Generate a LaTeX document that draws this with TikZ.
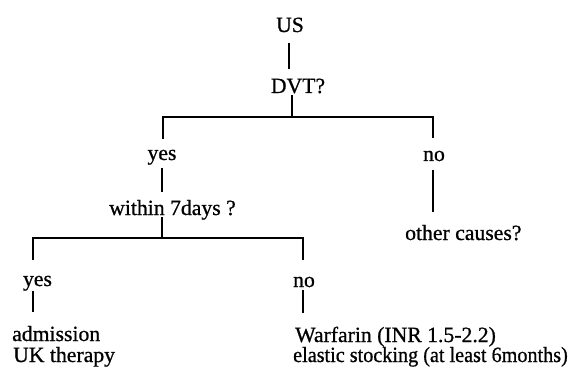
\documentclass[tikz,border=0pt]{standalone}
\usepackage{fontspec}
\setmainfont{Liberation Serif}[FakeBold=0.8]
\usetikzlibrary{calc}
\begin{document}
\begin{tikzpicture}[x=1pt,y=-1pt,
  lbl/.style={inner sep=0pt, anchor=base, font=\fontsize{21.7}{26}\selectfont},
  lbll/.style={lbl, anchor=base west},
  stem/.style={line width=2pt},
  bar/.style={line width=2.8pt, line cap=rect}]
\useasboundingbox (0,0) rectangle (569,371);
% junctions
\coordinate (j1)  at (292,117);
\coordinate (j1l) at (163,117);
\coordinate (j1r) at (433,117);
\coordinate (j2)  at (162,238);
\coordinate (j2l) at (33,238);
\coordinate (j2r) at (303,238);
% labels
\node[lbl] (us) at (290,32) {US};
\node[lbl] (dvt) at (298,93) {DVT?};
\node[lbl] (yes1) at (162,160) {yes};
\node[lbl] (no1) at (434,161) {no};
\node[lbll] (within) at (109,215) {within 7days ?};
\node[lbll] (other) at (405,240) {other causes?};
\node[lbl] (yes2) at (37.5,286) {yes};
\node[lbl] (no2) at (304,287) {no};
\node[lbll] (adm) at (12,341) {admission};
\node[lbll] (uk) at (13,362) {UK therapy};
\node[lbll] (warf) at (295,342) {Warfarin (INR 1.5-2.2)};
\node[lbll] (elas) at (293,362) {\scalebox{0.93}[1]{elastic stocking (at least 6months)}};
% connectors
\draw[stem] ($(us.south)+(-1pt,-11pt)$) -- ($(dvt.north)+(-9pt,9.3pt)$);
\draw[stem] ($(dvt.base -| j1)+(0,-2pt)$) -- (j1);
\draw[bar] (j1l) -- (j1r);
\draw[stem] (j1l) -- ($(yes1.north -| j1l)+(0,11pt)$);
\draw[stem] (j1r) -- ($(no1.north -| j1r)+(0,13pt)$);
\draw[stem] ($(yes1.base -| j2)+(0,-8pt)$) -- ($(within.north -| j2)+(0,8.2pt)$);
\draw[stem] ($(no1.base -| j1r)+(0,-9pt)$) -- ($(other.north -| j1r)+(0,13.2pt)$);
\draw[stem] ($(within.base -| j2)+(0,-2pt)$) -- (j2);
\draw[bar] (j2l) -- (j2r);
\draw[stem] (j2l) -- ($(yes2.north -| j2l)+(0,16pt)$);
\draw[stem] (j2r) -- ($(no2.north -| j2r)+(0,17pt)$);
\draw[stem] ($(yes2.base -| j2l)+(0,-5pt)$) -- ($(adm.north -| j2l)+(0,14pt)$);
\draw[stem] ($(no2.base -| j2r)+(0,-3pt)$) -- ($(warf.north -| j2r)+(0,14pt)$);
\end{tikzpicture}
\end{document}
